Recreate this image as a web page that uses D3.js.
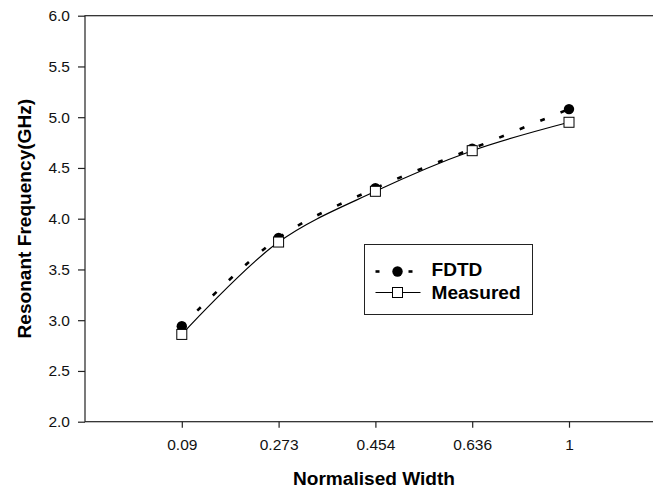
<!DOCTYPE html>
<html>
<head>
<meta charset="utf-8">
<script src="https://cdn.jsdelivr.net/npm/d3@7"></script>
<style>
  body { margin: 0; background: #fff; }
  svg { display: block; font-family: Arial, "Liberation Sans", sans-serif; }
</style>
</head>
<body>
<svg></svg>
<script>
// values
const widths = ["0.09", "0.273", "0.454", "0.636", "1"]
const fdtd = [2.94, 3.81, 4.30, 4.69, 5.08]
const measured = [2.86, 3.77, 4.27, 4.67, 4.95]
const yTicks = [2.0, 2.5, 3.0, 3.5, 4.0, 4.5, 5.0, 5.5, 6.0]

const svg = d3.select("svg")
    .attr("width", 653)
    .attr("height", 491)

const plotLeft = 85, plotTop = 15.7, plotBottom = 421.7
const step = 96.8
const plotRight = plotLeft + step * (widths.length + 1)

// the bold labels in the original are a bit wider than Arial
const widen = function (sel, k) {
    sel.each(function () {
        const w = this.getComputedTextLength()
        d3.select(this)
            .attr("textLength", w * k)
            .attr("lengthAdjust", "spacingAndGlyphs")
    })
}

// categories sit at positions 1..5, box runs from 0 to 6
const scaleX = d3.scaleLinear()
    .domain([0, widths.length + 1])
    .range([plotLeft, plotRight])

const scaleY = d3.scaleLinear()
    .domain([2, 6])
    .range([plotBottom, plotTop])

// frame (right side runs off the picture)
svg.append("rect")
    .attr("x", plotLeft)
    .attr("y", plotTop)
    .attr("width", plotRight - plotLeft)
    .attr("height", plotBottom - plotTop)
    .attr("fill", "none")
    .attr("stroke", "#222")
    .attr("stroke-width", 1.2)

// y axis
const axisY = svg.append("g")
    .attr("transform", `translate(${plotLeft},0)`)
    .call(d3.axisLeft(scaleY)
        .tickValues(yTicks)
        .tickFormat(d3.format(".1f"))
        .tickSize(7)
        .tickPadding(8))
axisY.select(".domain").remove()
axisY.selectAll("line").attr("stroke", "#222").attr("stroke-width", 1.2)
axisY.selectAll("text")
    .attr("font-size", 15.5)
    .attr("font-family", "Arial, 'Liberation Sans', sans-serif")
    .attr("fill", "#111")

// x axis
const axisX = svg.append("g")
    .attr("transform", `translate(0,${plotBottom})`)
    .call(d3.axisBottom(scaleX)
        .tickValues(d3.range(1, widths.length + 1))
        .tickFormat(i => widths[i - 1])
        .tickSize(6)
        .tickPadding(11))
axisX.select(".domain").remove()
axisX.selectAll("line").attr("stroke", "#222").attr("stroke-width", 1.2)
axisX.selectAll("text")
    .attr("font-size", 15.5)
    .attr("font-family", "Arial, 'Liberation Sans', sans-serif")
    .attr("fill", "#111")

// axis titles
svg.append("text")
    .attr("x", 374)
    .attr("y", 485)
    .attr("text-anchor", "middle")
    .attr("font-size", 18)
    .attr("font-weight", "bold")
    .text("Normalised Width")
    .call(widen, 1.06)

svg.append("text")
    .attr("transform", `translate(31, ${(plotTop + plotBottom) / 2}) rotate(-90)`)
    .attr("text-anchor", "middle")
    .attr("font-size", 18)
    .attr("font-weight", "bold")
    .text("Resonant Frequency(GHz)")
    .call(widen, 1.06)

const line = d3.line()
    .x((d, i) => scaleX(i + 1))
    .y(d => scaleY(d))
    .curve(d3.curveCatmullRom)

// lines
svg.append("path")
    .datum(measured)
    .attr("d", line)
    .attr("fill", "none")
    .attr("stroke", "#000")
    .attr("stroke-width", 1.2)

svg.append("path")
    .datum(fdtd)
    .attr("d", line)
    .attr("fill", "none")
    .attr("stroke", "#000")
    .attr("stroke-width", 2.6)
    .attr("stroke-dasharray", "5,17")

// markers
svg.selectAll("circle.fdtd")
    .data(fdtd)
    .enter()
    .append("circle")
    .attr("class", "fdtd")
    .attr("cx", (d, i) => scaleX(i + 1))
    .attr("cy", d => scaleY(d))
    .attr("r", 5.2)
    .attr("fill", "#000")

svg.selectAll("rect.measured")
    .data(measured)
    .enter()
    .append("rect")
    .attr("class", "measured")
    .attr("x", (d, i) => scaleX(i + 1) - 5)
    .attr("y", d => scaleY(d) - 5)
    .attr("width", 10)
    .attr("height", 10)
    .attr("fill", "#fff")
    .attr("stroke", "#000")
    .attr("stroke-width", 1)

// legend
const legend = svg.append("g")
    .attr("transform", "translate(364.5,244.5)")

legend.append("rect")
    .attr("width", 168)
    .attr("height", 70)
    .attr("fill", "#fff")
    .attr("stroke", "#222")
    .attr("stroke-width", 1)

legend.append("line")
    .attr("x1", 11).attr("x2", 15)
    .attr("y1", 27).attr("y2", 27)
    .attr("stroke", "#000")
    .attr("stroke-width", 2.6)
legend.append("line")
    .attr("x1", 44).attr("x2", 48)
    .attr("y1", 27).attr("y2", 27)
    .attr("stroke", "#000")
    .attr("stroke-width", 2.6)
legend.append("circle")
    .attr("cx", 33)
    .attr("cy", 27)
    .attr("r", 5.2)
    .attr("fill", "#000")
legend.append("text")
    .attr("x", 67)
    .attr("y", 31.5)
    .attr("font-size", 18)
    .attr("font-weight", "bold")
    .text("FDTD")
    .call(widen, 1.06)

legend.append("line")
    .attr("x1", 11).attr("x2", 56)
    .attr("y1", 48).attr("y2", 48)
    .attr("stroke", "#000")
    .attr("stroke-width", 1.2)
legend.append("rect")
    .attr("x", 28).attr("y", 43)
    .attr("width", 10).attr("height", 10)
    .attr("fill", "#fff")
    .attr("stroke", "#000")
legend.append("text")
    .attr("x", 67)
    .attr("y", 54)
    .attr("font-size", 18)
    .attr("font-weight", "bold")
    .text("Measured")
    .call(widen, 1.06)
</script>
</body>
</html>
